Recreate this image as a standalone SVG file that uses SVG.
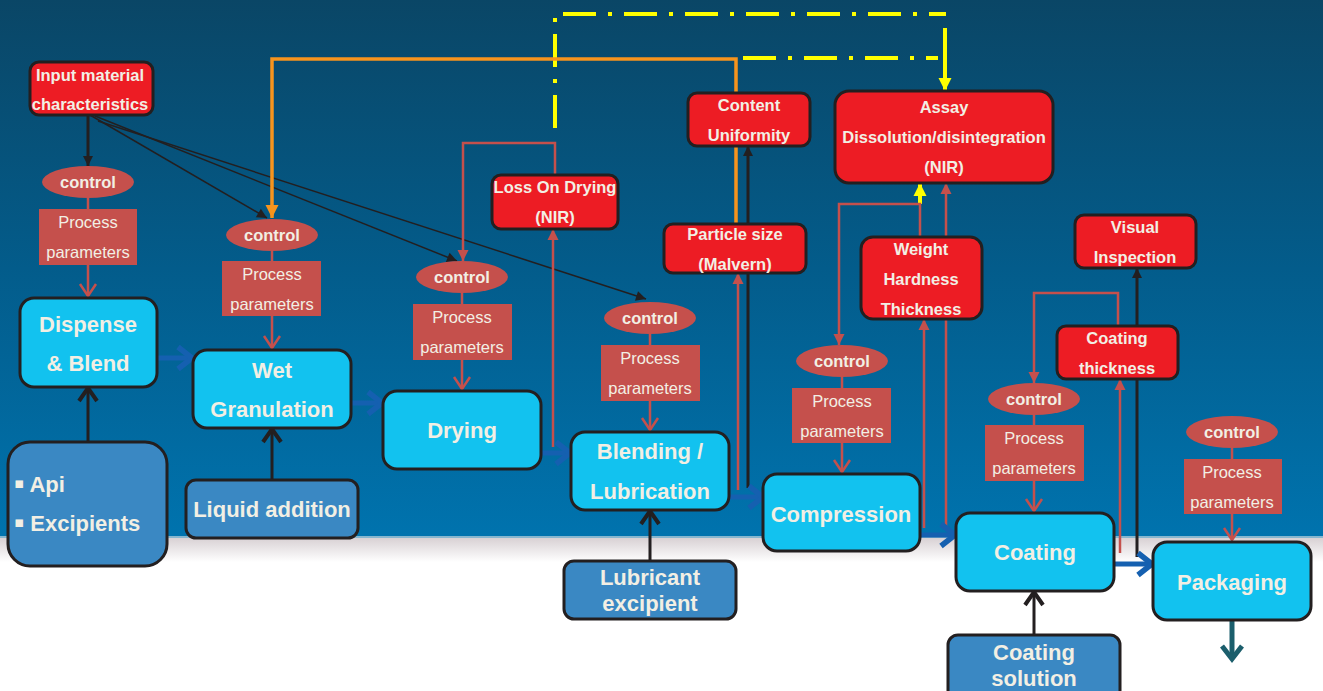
<svg xmlns="http://www.w3.org/2000/svg" width="1323" height="691" viewBox="0 0 1323 691">
<defs>
<linearGradient id="bg" x1="0" y1="0" x2="0" y2="537" gradientUnits="userSpaceOnUse">
<stop offset="0" stop-color="#0a4666"/><stop offset="0.5" stop-color="#035c8b"/><stop offset="1" stop-color="#0073ae"/>
</linearGradient>
<linearGradient id="fade" x1="0" y1="0" x2="0" y2="1">
<stop offset="0" stop-color="#d8d1d4"/><stop offset="1" stop-color="#ffffff"/>
</linearGradient>
<marker id="aBlk" viewBox="0 0 10 10" refX="10" refY="5" markerWidth="10" markerHeight="10" markerUnits="userSpaceOnUse" orient="auto" overflow="visible"><path d="M0,0 L10,5 L0,10 z" fill="#231f20"/></marker>
<marker id="aRed" viewBox="0 0 11 11" refX="11" refY="5.5" markerWidth="11" markerHeight="11" markerUnits="userSpaceOnUse" orient="auto" overflow="visible"><path d="M0,0 L11,5.5 L0,11 z" fill="#c5504c"/></marker>
<marker id="aOrg" viewBox="0 0 13 13" refX="13" refY="6.5" markerWidth="13" markerHeight="13" markerUnits="userSpaceOnUse" orient="auto" overflow="visible"><path d="M0,0 L13,6.5 L0,13 z" fill="#f7941d"/></marker>
<marker id="aYel" viewBox="0 0 13 13" refX="13" refY="6.5" markerWidth="13" markerHeight="13" markerUnits="userSpaceOnUse" orient="auto" overflow="visible"><path d="M0,0 L13,6.5 L0,13 z" fill="#ffff00"/></marker>
<marker id="vRed" viewBox="0 -9 14 18" refX="13" refY="0" markerWidth="14" markerHeight="18" markerUnits="userSpaceOnUse" orient="auto" overflow="visible"><path d="M1,-8 L13,0 L1,8" fill="none" stroke="#c5504c" stroke-width="2.5"/></marker>
<marker id="vBlk" viewBox="0 -10 14 20" refX="13" refY="0" markerWidth="14" markerHeight="20" markerUnits="userSpaceOnUse" orient="auto" overflow="visible"><path d="M0,-9 L13,0 L0,9" fill="none" stroke="#231f20" stroke-width="4"/></marker>
<marker id="vBlue" viewBox="0 -12 16 24" refX="15" refY="0" markerWidth="16" markerHeight="24" markerUnits="userSpaceOnUse" orient="auto" overflow="visible"><path d="M1,-11 L15,0 L1,11" fill="none" stroke="#1560b0" stroke-width="5.5"/></marker>
<marker id="vTeal" viewBox="0 -11 15 22" refX="14" refY="0" markerWidth="15" markerHeight="22" markerUnits="userSpaceOnUse" orient="auto" overflow="visible"><path d="M1,-10 L14,0 L1,10" fill="none" stroke="#1b5e6c" stroke-width="5"/></marker>
</defs>
<style>
text{font-family:"Liberation Sans",Arial,sans-serif;fill:#f2efe4;text-anchor:middle}
.m{font-size:16.5px;font-weight:bold}
.pp{font-size:16.5px}
.pn{font-size:22px;font-weight:bold}
.bul{font-family:"DejaVu Sans",sans-serif;font-size:15px}
.proc{fill:#12c2ef;stroke:#231f20;stroke-width:3}
.inp{fill:#3a88c3;stroke:#231f20;stroke-width:3}
.meas{fill:#ed1c24;stroke:#231f20;stroke-width:3}
.ctl{fill:#c5504c}
.rl{fill:none;stroke:#c5504c;stroke-width:2.5}
.bl{fill:none;stroke:#231f20;stroke-width:1.5}
.bk{fill:none;stroke:#231f20;stroke-width:3}
.blue{fill:none;stroke:#1560b0;stroke-width:5}
.yd{fill:none;stroke:#ffff00;stroke-width:4;stroke-dasharray:33 12 4 12}
.ys{fill:none;stroke:#ffff00;stroke-width:4}
.org{fill:none;stroke:#f7941d;stroke-width:3.5}
</style>
<g id="background">
<rect x="0" y="0" width="1323" height="537" fill="url(#bg)"/>
<rect x="0" y="537" width="1323" height="154" fill="#ffffff"/>
<rect x="0" y="538" width="1323" height="24" fill="url(#fade)"/>
<line x1="0" y1="537" x2="1323" y2="537" stroke="#86b6cf" stroke-width="2"/>
</g>
<g id="connectors">
<line class="bk" x1="88" y1="115" x2="88" y2="166" stroke-width="2.5" marker-end="url(#aBlk)"/>
<line class="bl" x1="90" y1="115" x2="267" y2="218" marker-end="url(#aBlk)"/>
<line class="bl" x1="95" y1="116" x2="457" y2="261" marker-end="url(#aBlk)"/>
<line class="bl" x1="98" y1="121" x2="646" y2="299" marker-end="url(#aBlk)"/>
<path class="yd" d="M555,128 V14 H946"/>
<path class="yd" d="M743,58 H938"/>
<line class="ys" x1="945" y1="28" x2="945" y2="91" marker-end="url(#aYel)"/>
<line class="ys" x1="920" y1="204" x2="920" y2="183" marker-end="url(#aYel)"/>
<path class="org" d="M736,224 V59 H272 V218" marker-end="url(#aOrg)"/>
<path class="rl" d="M88,198 V209 M88,265 V296" marker-end="url(#vRed)"/>
<path class="rl" d="M272,251 V261 M272,316 V348" marker-end="url(#vRed)"/>
<path class="rl" d="M462,293 V304 M462,360 V389" marker-end="url(#vRed)"/>
<path class="rl" d="M650,334 V345 M650,401 V430" marker-end="url(#vRed)"/>
<path class="rl" d="M842,377 V388 M842,443 V472" marker-end="url(#vRed)"/>
<path class="rl" d="M1034,415 V425 M1034,481 V511" marker-end="url(#vRed)"/>
<path class="rl" d="M1232,448 V459 M1232,514 V540" marker-end="url(#vRed)"/>
<path class="rl" d="M555,175 V143 H463 V261" marker-end="url(#aRed)"/>
<line class="rl" x1="553" y1="447" x2="553" y2="229" marker-end="url(#aRed)"/>
<line class="rl" x1="738" y1="490" x2="738" y2="273" marker-end="url(#aRed)"/>
<line class="bk" x1="748" y1="488" x2="748" y2="146" marker-end="url(#aBlk)"/>
<path class="rl" d="M920,237 V204 H839 V345" marker-end="url(#aRed)"/>
<line class="rl" x1="924" y1="528" x2="924" y2="319" marker-end="url(#aRed)"/>
<line class="rl" x1="946" y1="528" x2="946" y2="183" marker-end="url(#aRed)"/>
<path class="rl" d="M1118,326 V293 H1034 V383" marker-end="url(#aRed)"/>
<line class="rl" x1="1120" y1="553" x2="1120" y2="379" marker-end="url(#aRed)"/>
<line class="bk" x1="1137" y1="557" x2="1137" y2="268" marker-end="url(#aBlk)"/>
<line class="bk" x1="88" y1="442" x2="88" y2="388" stroke-width="4" marker-end="url(#vBlk)"/>
<line class="bk" x1="272" y1="480" x2="272" y2="429" stroke-width="4" marker-end="url(#vBlk)"/>
<line class="bk" x1="650" y1="561" x2="650" y2="511" stroke-width="4" marker-end="url(#vBlk)"/>
<line class="bk" x1="1034" y1="635" x2="1034" y2="592" stroke-width="4" marker-end="url(#vBlk)"/>
<line class="blue" x1="156" y1="358" x2="192" y2="358" marker-end="url(#vBlue)"/>
<line class="blue" x1="351" y1="403" x2="382" y2="403" marker-end="url(#vBlue)"/>
<line class="blue" x1="541" y1="453" x2="570" y2="453" marker-end="url(#vBlue)"/>
<line class="blue" x1="729" y1="497" x2="763" y2="497" marker-end="url(#vBlue)"/>
<line class="blue" x1="920" y1="535" x2="955" y2="535" marker-end="url(#vBlue)"/>
<line class="blue" x1="1114" y1="564" x2="1152" y2="564" marker-end="url(#vBlue)"/>
<line x1="1232" y1="621" x2="1232" y2="659" stroke="#1b5e6c" stroke-width="5" marker-end="url(#vTeal)"/>
</g>
<g id="input-material">
<rect class="meas" x="30" y="62" width="123" height="53" rx="9"/>
<text class="m" x="90" y="81">Input material</text>
<text class="m" x="90" y="110">characteristics</text>
</g>
<g id="control1"><ellipse class="ctl" cx="88" cy="182" rx="46" ry="16"/><text class="m" x="88" y="188">control</text></g>
<g id="params1"><rect class="ctl" x="39" y="209" width="98" height="56"/><text class="pp" x="88" y="228">Process</text><text class="pp" x="88" y="258">parameters</text></g>
<g id="control2"><ellipse class="ctl" cx="272" cy="235" rx="46" ry="16"/><text class="m" x="272" y="241">control</text></g>
<g id="params2"><rect class="ctl" x="222" y="261" width="99" height="55"/><text class="pp" x="272" y="280">Process</text><text class="pp" x="272" y="310">parameters</text></g>
<g id="control3"><ellipse class="ctl" cx="462" cy="277" rx="46" ry="16"/><text class="m" x="462" y="283">control</text></g>
<g id="params3"><rect class="ctl" x="413" y="304" width="99" height="56"/><text class="pp" x="462" y="323">Process</text><text class="pp" x="462" y="353">parameters</text></g>
<g id="control4"><ellipse class="ctl" cx="650" cy="318" rx="46" ry="16"/><text class="m" x="650" y="324">control</text></g>
<g id="params4"><rect class="ctl" x="601" y="345" width="99" height="56"/><text class="pp" x="650" y="364">Process</text><text class="pp" x="650" y="394">parameters</text></g>
<g id="control5"><ellipse class="ctl" cx="842" cy="361" rx="46" ry="16"/><text class="m" x="842" y="367">control</text></g>
<g id="params5"><rect class="ctl" x="792" y="388" width="99" height="55"/><text class="pp" x="842" y="407">Process</text><text class="pp" x="842" y="437">parameters</text></g>
<g id="control6"><ellipse class="ctl" cx="1034" cy="399" rx="46" ry="16"/><text class="m" x="1034" y="405">control</text></g>
<g id="params6"><rect class="ctl" x="985" y="425" width="99" height="56"/><text class="pp" x="1034" y="444">Process</text><text class="pp" x="1034" y="474">parameters</text></g>
<g id="control7"><ellipse class="ctl" cx="1232" cy="432" rx="46" ry="16"/><text class="m" x="1232" y="438">control</text></g>
<g id="params7"><rect class="ctl" x="1184" y="459" width="98" height="55"/><text class="pp" x="1232" y="478">Process</text><text class="pp" x="1232" y="508">parameters</text></g>
<g id="dispense"><rect class="proc" x="20" y="298" width="137" height="89" rx="14"/><text class="pn" x="88" y="332">Dispense</text><text class="pn" x="88" y="371">&amp; Blend</text></g>
<g id="wet-granulation"><rect class="proc" x="193" y="350" width="158" height="78" rx="14"/><text class="pn" x="272" y="378">Wet</text><text class="pn" x="272" y="417">Granulation</text></g>
<g id="drying"><rect class="proc" x="383" y="391" width="158" height="78" rx="14"/><text class="pn" x="462" y="438">Drying</text></g>
<g id="blending"><rect class="proc" x="571" y="432" width="158" height="78" rx="14"/><text class="pn" x="650" y="459">Blending /</text><text class="pn" x="650" y="499">Lubrication</text></g>
<g id="compression"><rect class="proc" x="763" y="474" width="157" height="77" rx="14"/><text class="pn" x="841" y="522">Compression</text></g>
<g id="coating"><rect class="proc" x="956" y="513" width="158" height="78" rx="14"/><text class="pn" x="1035" y="560">Coating</text></g>
<g id="packaging"><rect class="proc" x="1153" y="542" width="158" height="78" rx="14"/><text class="pn" x="1232" y="590">Packaging</text></g>
<g id="api"><rect class="inp" x="8" y="442" width="159" height="124" rx="22"/>
<text class="pn" x="14" y="492" style="text-anchor:start"><tspan class="bul" dy="-4">▪</tspan><tspan dy="4"> Api</tspan></text>
<text class="pn" x="14" y="531" style="text-anchor:start"><tspan class="bul" dy="-4">▪</tspan><tspan dy="4"> Excipients</tspan></text></g>
<g id="liquid"><rect class="inp" x="186" y="480" width="172" height="58" rx="10"/><text class="pn" x="272" y="517">Liquid addition</text></g>
<g id="lubricant"><rect class="inp" x="564" y="561" width="172" height="58" rx="10"/><text class="pn" x="650" y="585">Lubricant</text><text class="pn" x="650" y="611">excipient</text></g>
<g id="coating-solution"><rect class="inp" x="948" y="635" width="172" height="66" rx="10"/><text class="pn" x="1034" y="660">Coating</text><text class="pn" x="1034" y="686">solution</text></g>
<g id="lod"><rect class="meas" x="492" y="175" width="126" height="54" rx="9"/><text class="m" x="555" y="193">Loss On Drying</text><text class="m" x="555" y="223">(NIR)</text></g>
<g id="content-uniformity"><rect class="meas" x="688" y="93" width="122" height="53" rx="9"/><text class="m" x="749" y="111">Content</text><text class="m" x="749" y="141">Uniformity</text></g>
<g id="particle-size"><rect class="meas" x="664" y="224" width="142" height="49" rx="9"/><text class="m" x="735" y="240">Particle size</text><text class="m" x="735" y="270">(Malvern)</text></g>
<g id="assay"><rect class="meas" x="835" y="91" width="218" height="92" rx="14"/><text class="m" x="944" y="113">Assay</text><text class="m" x="944" y="143">Dissolution/disintegration</text><text class="m" x="944" y="173">(NIR)</text></g>
<g id="weight"><rect class="meas" x="861" y="237" width="121" height="82" rx="12"/><text class="m" x="921" y="255">Weight</text><text class="m" x="921" y="285">Hardness</text><text class="m" x="921" y="315">Thickness</text></g>
<g id="visual"><rect class="meas" x="1075" y="215" width="121" height="53" rx="9"/><text class="m" x="1135" y="233">Visual</text><text class="m" x="1135" y="263">Inspection</text></g>
<g id="coating-thickness"><rect class="meas" x="1057" y="326" width="121" height="53" rx="9"/><text class="m" x="1117" y="344">Coating</text><text class="m" x="1117" y="374">thickness</text></g>
</svg>
